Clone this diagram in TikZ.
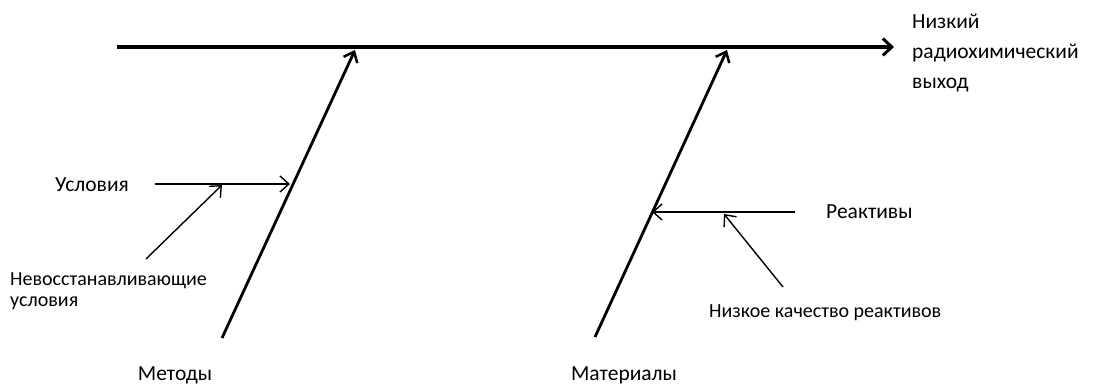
\documentclass[tikz,border=0pt]{standalone}
\usepackage{fontspec}
\setmainfont{Carlito}
\usetikzlibrary{arrows.meta}
\begin{document}
\begin{tikzpicture}[x=1pt,y=-1pt,
  spine/.style={line width=3.6pt,-{Straight Barb[length=9pt,width=17pt,line width=3pt]}},
  bone/.style={line width=2.8pt,-{Straight Barb[length=9pt,width=15pt,line width=2.5pt]}},
  sub/.style={line width=1.4pt,-{Straight Barb[length=9pt,width=16pt,line width=1.4pt]}},
  big/.style={font=\fontsize{21.5}{30}\selectfont,inner sep=0pt},
  small/.style={font=\fontsize{20}{20.5}\selectfont,inner sep=0pt}]
\useasboundingbox (0,0) rectangle (1095,385);
\coordinate (s0) at (117,47);
\coordinate (s1) at (894,47);
\coordinate (b1s) at (222,338);
\coordinate (b1e) at (355,50);
\coordinate (b2s) at (595,337);
\coordinate (b2e) at (727,50);
\coordinate (u0) at (155,184);
\coordinate (u1) at (290,184);
\coordinate (n0) at (146,259);
\coordinate (n1) at (222,185);
\coordinate (r0) at (795,212);
\coordinate (r1) at (652,212);
\coordinate (q0) at (783,287);
\coordinate (q1) at (724,214);
\draw[spine] (s0) -- (s1);
\draw[bone] (b1s) -- (b1e);
\draw[bone] (b2s) -- (b2e);
\draw[sub] (u0) -- (u1);
\draw[sub] (n0) -- (n1);
\draw[sub] (r0) -- (r1);
\draw[sub] (q0) -- (q1);
\node[big,anchor=base west,align=left] (effect) at (912,89) {Низкий\\радиохимический\\выход};
\node[big,anchor=base west] (usl) at (55,191) {Условия};
\node[small,anchor=base west,align=left] (nev) at (10,306) {Невосстанавливающие\\условия};
\node[big,anchor=base west] (reak) at (826,218) {Реактивы};
\node[small,anchor=base west] (nk) at (709,317) {Низкое качество реактивов};
\node[big,anchor=base] (met) at (175,380) {Методы};
\node[big,anchor=base] (mat) at (624,380) {Материалы};
\end{tikzpicture}
\end{document}
